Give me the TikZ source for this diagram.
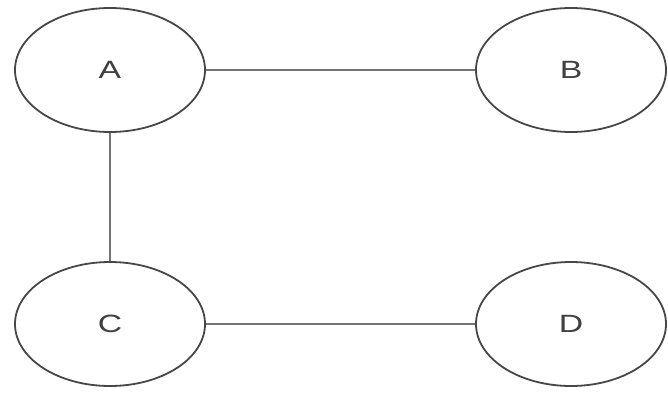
\documentclass[tikz,border=0pt]{standalone}
\usepackage{fontspec}
\setmainfont{Liberation Sans}
\usetikzlibrary{shapes.geometric}
\newcommand{\widelabel}[1]{\scalebox{1.35}[1]{#1}}
\begin{document}
\begin{tikzpicture}[x=1pt,y=-1pt,
  vert/.style={ellipse,draw=black!72,line width=1.8pt,fill=white,minimum width=190pt,minimum height=124pt,inner sep=0pt,font=\fontsize{25}{28}\selectfont,text=black!75},
  edge/.style={draw=black!55,line width=1.3pt}]
\useasboundingbox (0,0) rectangle (668,393);
\node[vert] (A) at (110,70) {\widelabel{A}};
\node[vert] (B) at (571,70) {\widelabel{B}};
\node[vert] (C) at (110,324) {\widelabel{C}};
\node[vert] (D) at (571,324) {\widelabel{D}};
\draw[edge] (A) -- (B);
\draw[edge] (A) -- (C);
\draw[edge] (C) -- (D);
\end{tikzpicture}
\end{document}
